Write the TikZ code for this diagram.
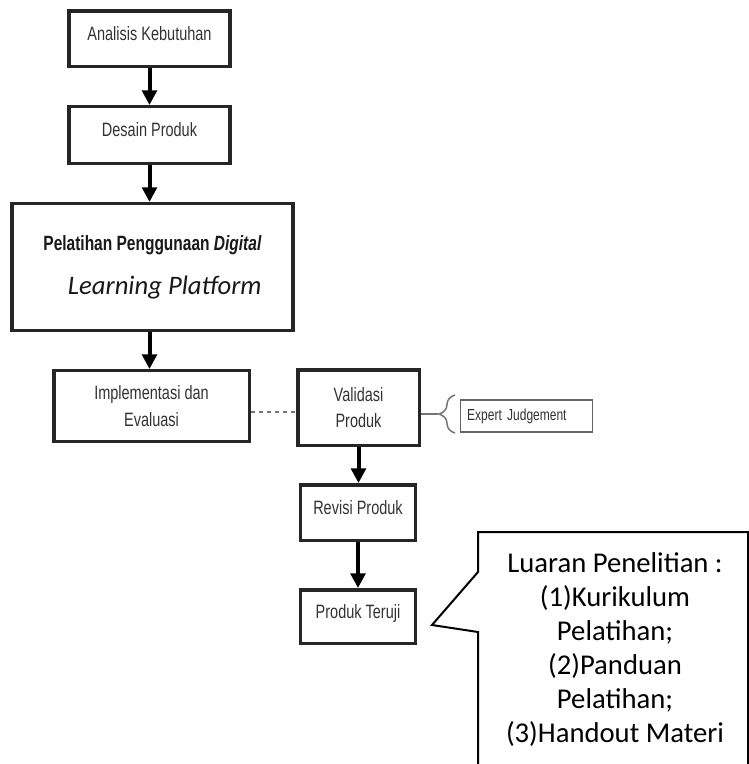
\documentclass[tikz,border=0pt]{standalone}
\usepackage{fontspec}
\newfontfamily\narrowfont[FakeStretch=0.75]{Liberation Sans}
\newfontfamily\calibrifont{Carlito}
\usetikzlibrary{positioning,arrows.meta,decorations.pathreplacing}

\begin{document}
\begin{tikzpicture}[x=0.75pt, y=-0.75pt]

		\tikzstyle{process} = [draw=black!85, rectangle, line width=2.6pt, fill=white, align=center, text=black!80, inner sep=0pt, font=\narrowfont\fontsize{14.5}{20}\selectfont]
		\tikzstyle{lone} = [process, text depth=8pt]
		\tikzstyle{flow} = [-{Triangle[length=11pt, width=11pt]}, line width=3pt, black]
		\tikzstyle{link} = [dashed, line width=1.1pt, black!55]

		\clip (0,0) rectangle (749,764);

		\node[lone, minimum width=121pt, minimum height=41.6pt] (analisis) at (149.5,38.5) {Analisis Kebutuhan};
		\node[lone, minimum width=121pt, minimum height=42.4pt] (desain) at (149.5,135) {Desain Produk};

		\node[process, minimum width=211pt, minimum height=95pt, align=right, text=black!90, font=\narrowfont\bfseries\fontsize{15.5}{33}\selectfont] (pelatihan) at (152.5,267) {Pelatihan Penggunaan \textit{Digital}\\{\calibrifont\mdseries\itshape\fontsize{20}{33}\selectfont Learning Platform}};

		\node[process, minimum width=146.6pt, minimum height=52.9pt] (implementasi) at (151.5,406) {Implementasi dan\\Evaluasi};
		\node[process, minimum width=91.1pt, minimum height=56.6pt] (validasi) at (358.5,407.5) {Validasi\\Produk};
		\node[draw=black!60, line width=1.2pt, text width=89pt, align=left, inner xsep=5pt, minimum height=24.3pt, text=black!80, font=\narrowfont\fontsize{12}{13}\selectfont] (expert) at (526.5,416) {Expert Judgement};

		\node[lone, minimum width=85.9pt, minimum height=41.6pt] (revisi) at (358,512.5) {Revisi Produk};
		\node[lone, minimum width=85.9pt, minimum height=40.1pt] (teruji) at (358,616.5) {Produk Teruji};

		\draw[flow] (analisis) -- (desain);
		\draw[flow] (desain) -- (desain |- pelatihan.north);
		\draw[flow] (pelatihan.south -| desain) -- (implementasi.north -| desain);
		\draw[flow] (validasi.south) -- (validasi.south |- revisi.north);
		\draw[flow] (revisi) -- (teruji);

		\draw[link] ([yshift=-4.5pt]implementasi.east) -- ([yshift=-4.5pt]implementasi.east -| validasi.west);

		% brace towards expert judgement
		\coordinate (bracetip) at (438,414);
		\draw[line width=1.1pt, black!55] (validasi.east |- bracetip) -- (bracetip);
		\draw[line width=1.1pt, black!55, decorate, decoration={brace, amplitude=12pt}] (455,433) -- (455,395);

		% callout
		\draw[line width=1.5pt, line join=miter] (478,790) -- (478,632) -- (432,625) -- (478,572) -- (478,532) -- (748,532) -- (748,790);
		\node[font=\calibrifont\fontsize{21.5}{25.5}\selectfont, align=center, anchor=base, inner sep=0pt] (luaran) at (615,742) {Luaran Penelitian :\\(1)Kurikulum\\Pelatihan;\\(2)Panduan\\Pelatihan;\\(3)Handout Materi};

	\end{tikzpicture}
\end{document}
